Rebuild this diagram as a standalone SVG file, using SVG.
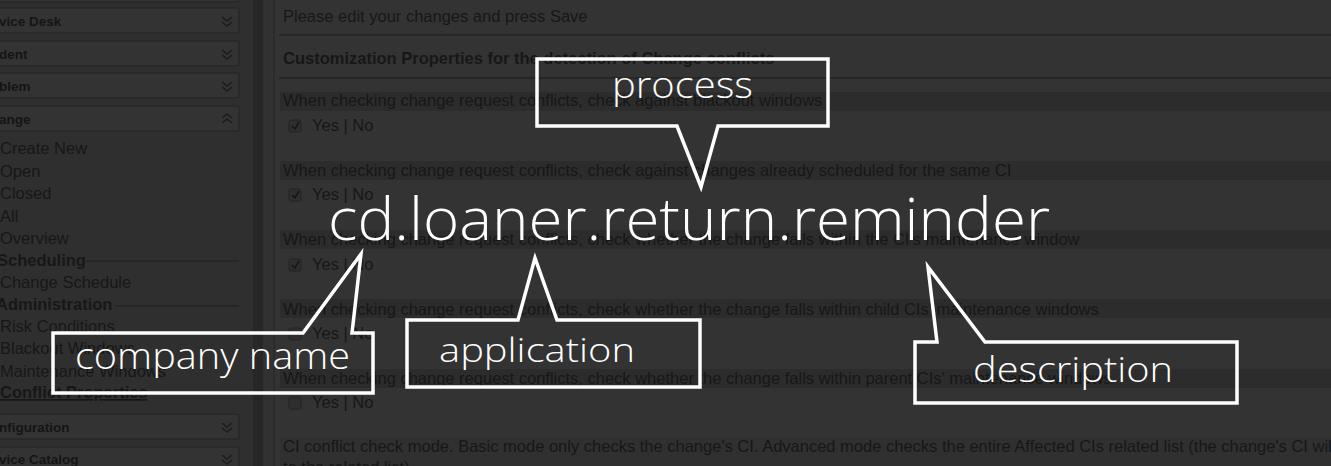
<svg xmlns="http://www.w3.org/2000/svg" width="1331" height="466" viewBox="0 0 1331 466">
<style>
:root{color-scheme:only light}
.ui{font-family:"Liberation Sans",Arial,sans-serif;font-size:16.5px;fill:#171717}
.hd{font-family:"Liberation Sans",Arial,sans-serif;font-size:13.5px;font-weight:bold;fill:#151515}
.b{font-weight:bold}
.hbox{fill:#333333;stroke:#282828;stroke-width:1.5}
.chev{fill:none;stroke:#1c1c1c;stroke-width:1.6}
.stripe{fill:#2c2c2c}
.rule{stroke:#242424;stroke-width:1.5}
.cb{fill:#2e2e2e;stroke:#232323;stroke-width:1}
.callout{fill:none;stroke:#ffffff;stroke-width:3.5;stroke-linejoin:miter}
.lbl{font-family:"Open Sans","DejaVu Sans",sans-serif;font-weight:300;fill:#ffffff}
</style>
<defs>
<g id="chevDown"><polyline class="chev" points="-5,-5 0,-1 5,-5"/><polyline class="chev" points="-5,0 0,4 5,0"/></g>
<g id="chevUp"><polyline class="chev" points="-5,1 0,-3 5,1"/><polyline class="chev" points="-5,6 0,2 5,6"/></g>
</defs>
<!-- background screenshot (dimmed) -->
<g id="background">
<rect x="0" y="0" width="1331" height="466" fill="#333333"/>
<rect x="0" y="0" width="253" height="466" fill="#2f2f2f"/>
<rect x="253" y="0" width="10" height="466" fill="#272727"/>
<rect x="263" y="0" width="8" height="466" fill="#313131"/>
<line x1="274" y1="0" x2="274" y2="466" stroke="#2b2b2b" stroke-width="2"/>
<!-- sidebar -->
<rect class="hbox" x="-5" y="-20" width="244" height="22" rx="2"/>
<rect class="hbox" x="-5" y="8" width="244" height="25" rx="2"/>
<rect class="hbox" x="-5" y="41" width="244" height="25" rx="2"/>
<rect class="hbox" x="-5" y="73" width="244" height="25" rx="2"/>
<rect class="hbox" x="-5" y="106" width="244" height="25" rx="2"/>
<rect class="hbox" x="-5" y="414" width="244" height="25" rx="2"/>
<rect class="hbox" x="-5" y="447" width="244" height="25" rx="2"/>
<text class="hd" x="-1" y="26">vice Desk</text>
<text class="hd" x="-1" y="59">dent</text>
<text class="hd" x="-1" y="91">blem</text>
<text class="hd" x="-1" y="124">ange</text>
<text class="hd" x="-1" y="432">nfiguration</text>
<text class="hd" x="-1" y="464">vice Catalog</text>
<use href="#chevDown" x="227" y="22"/>
<use href="#chevDown" x="227" y="55"/>
<use href="#chevDown" x="227" y="87"/>
<use href="#chevUp" x="227" y="117"/>
<use href="#chevDown" x="227" y="428"/>
<use href="#chevDown" x="227" y="460"/>
<text class="ui" x="0" y="154">Create New</text>
<text class="ui" x="0" y="177">Open</text>
<text class="ui" x="0" y="199">Closed</text>
<text class="ui" x="0" y="222">All</text>
<text class="ui" x="0" y="244">Overview</text>
<text class="ui b" x="-3" y="266">Scheduling</text>
<line class="rule" x1="86" y1="261" x2="239" y2="261"/>
<text class="ui" x="0" y="288">Change Schedule</text>
<text class="ui b" x="-4" y="310">Administration</text>
<line class="rule" x1="115" y1="306" x2="239" y2="306"/>
<text class="ui" x="0" y="332">Risk Conditions</text>
<text class="ui" x="0" y="354">Blackout Windows</text>
<text class="ui" x="0" y="377">Maintenance Windows</text>
<text class="ui b" x="0" y="398" text-decoration="underline">Conflict Properties</text>
<!-- content -->
<text class="ui" x="283" y="22">Please edit your changes and press Save</text>
<line class="rule" x1="279" y1="35" x2="1331" y2="35"/>
<text class="ui b" x="283" y="64">Customization Properties for the detection of Change conflicts</text>
<line class="rule" x1="279" y1="78" x2="1331" y2="78"/>
<rect class="stripe" x="280" y="92" width="1051" height="19"/>
<text class="ui" x="283" y="106">When checking change request conflicts, check against blackout windows</text>
<rect class="cb" x="289" y="120" width="12" height="12" rx="2"/>
<polyline points="292,126 295,129 299,122" fill="none" stroke="#161616" stroke-width="1.6"/>
<text class="ui" x="312" y="131">Yes | No</text>
<rect class="stripe" x="280" y="161" width="1051" height="19"/>
<text class="ui" x="283" y="176">When checking change request conflicts, check against changes already scheduled for the same CI</text>
<rect class="cb" x="289" y="189" width="12" height="12" rx="2"/>
<polyline points="292,195 295,198 299,191" fill="none" stroke="#161616" stroke-width="1.6"/>
<text class="ui" x="312" y="200">Yes | No</text>
<rect class="stripe" x="280" y="230" width="1051" height="19"/>
<text class="ui" x="283" y="245">When checking change request conflicts, check whether the change falls within the CI's maintenance window</text>
<rect class="cb" x="289" y="259" width="12" height="12" rx="2"/>
<polyline points="292,265 295,268 299,261" fill="none" stroke="#161616" stroke-width="1.6"/>
<text class="ui" x="312" y="270">Yes | No</text>
<rect class="stripe" x="280" y="299" width="1051" height="19"/>
<text class="ui" x="283" y="315">When checking change request conflicts, check whether the change falls within child CIs' maintenance windows</text>
<rect class="cb" x="289" y="328" width="12" height="12" rx="2"/>
<text class="ui" x="312" y="339">Yes | No</text>
<rect class="stripe" x="280" y="369" width="1051" height="19"/>
<text class="ui" x="283" y="384">When checking change request conflicts, check whether the change falls within parent CIs' maintenance windows</text>
<rect class="cb" x="289" y="397" width="12" height="12" rx="2"/>
<text class="ui" x="312" y="408">Yes | No</text>
<rect x="280" y="437" width="1051" height="29" fill="#303030"/>
<text class="ui" x="283" y="452">CI conflict check mode. Basic mode only checks the change's CI. Advanced mode checks the entire Affected CIs related list (the change's CI will be added</text>
<text class="ui" x="283" y="473">to the related list)</text>
</g>
<!-- pointer callouts -->
<g id="connectors">
<path id="callout-process" class="callout" d="M537,59 H828 V126 H718 L701,187 L677,126 H537 Z"/>
<path id="callout-company" class="callout" d="M53,333 H303 L361,254 L352,333 H373 V393 H53 Z"/>
<path id="callout-application" class="callout" d="M407,320 H518 L535,258 L557,320 H700 V387 H407 Z"/>
<path id="callout-description" class="callout" d="M915,342 H937 L928,267 L985,342 H1237 V403 H915 Z"/>
</g>
<g id="node-main">
<text class="lbl" x="328" y="240" font-size="58" textLength="722" lengthAdjust="spacingAndGlyphs">cd.loaner.return.reminder</text>
</g>
<g id="node-process">
<text class="lbl" x="612" y="98" font-size="37" textLength="141" lengthAdjust="spacingAndGlyphs">process</text>
</g>
<g id="node-company">
<text class="lbl" x="75" y="369" font-size="36" textLength="275" lengthAdjust="spacingAndGlyphs">company name</text>
</g>
<g id="node-application">
<text class="lbl" x="439" y="362" font-size="33" textLength="196" lengthAdjust="spacingAndGlyphs">application</text>
</g>
<g id="node-description">
<text class="lbl" x="973" y="382" font-size="34" textLength="200" lengthAdjust="spacingAndGlyphs">description</text>
</g>
</svg>
